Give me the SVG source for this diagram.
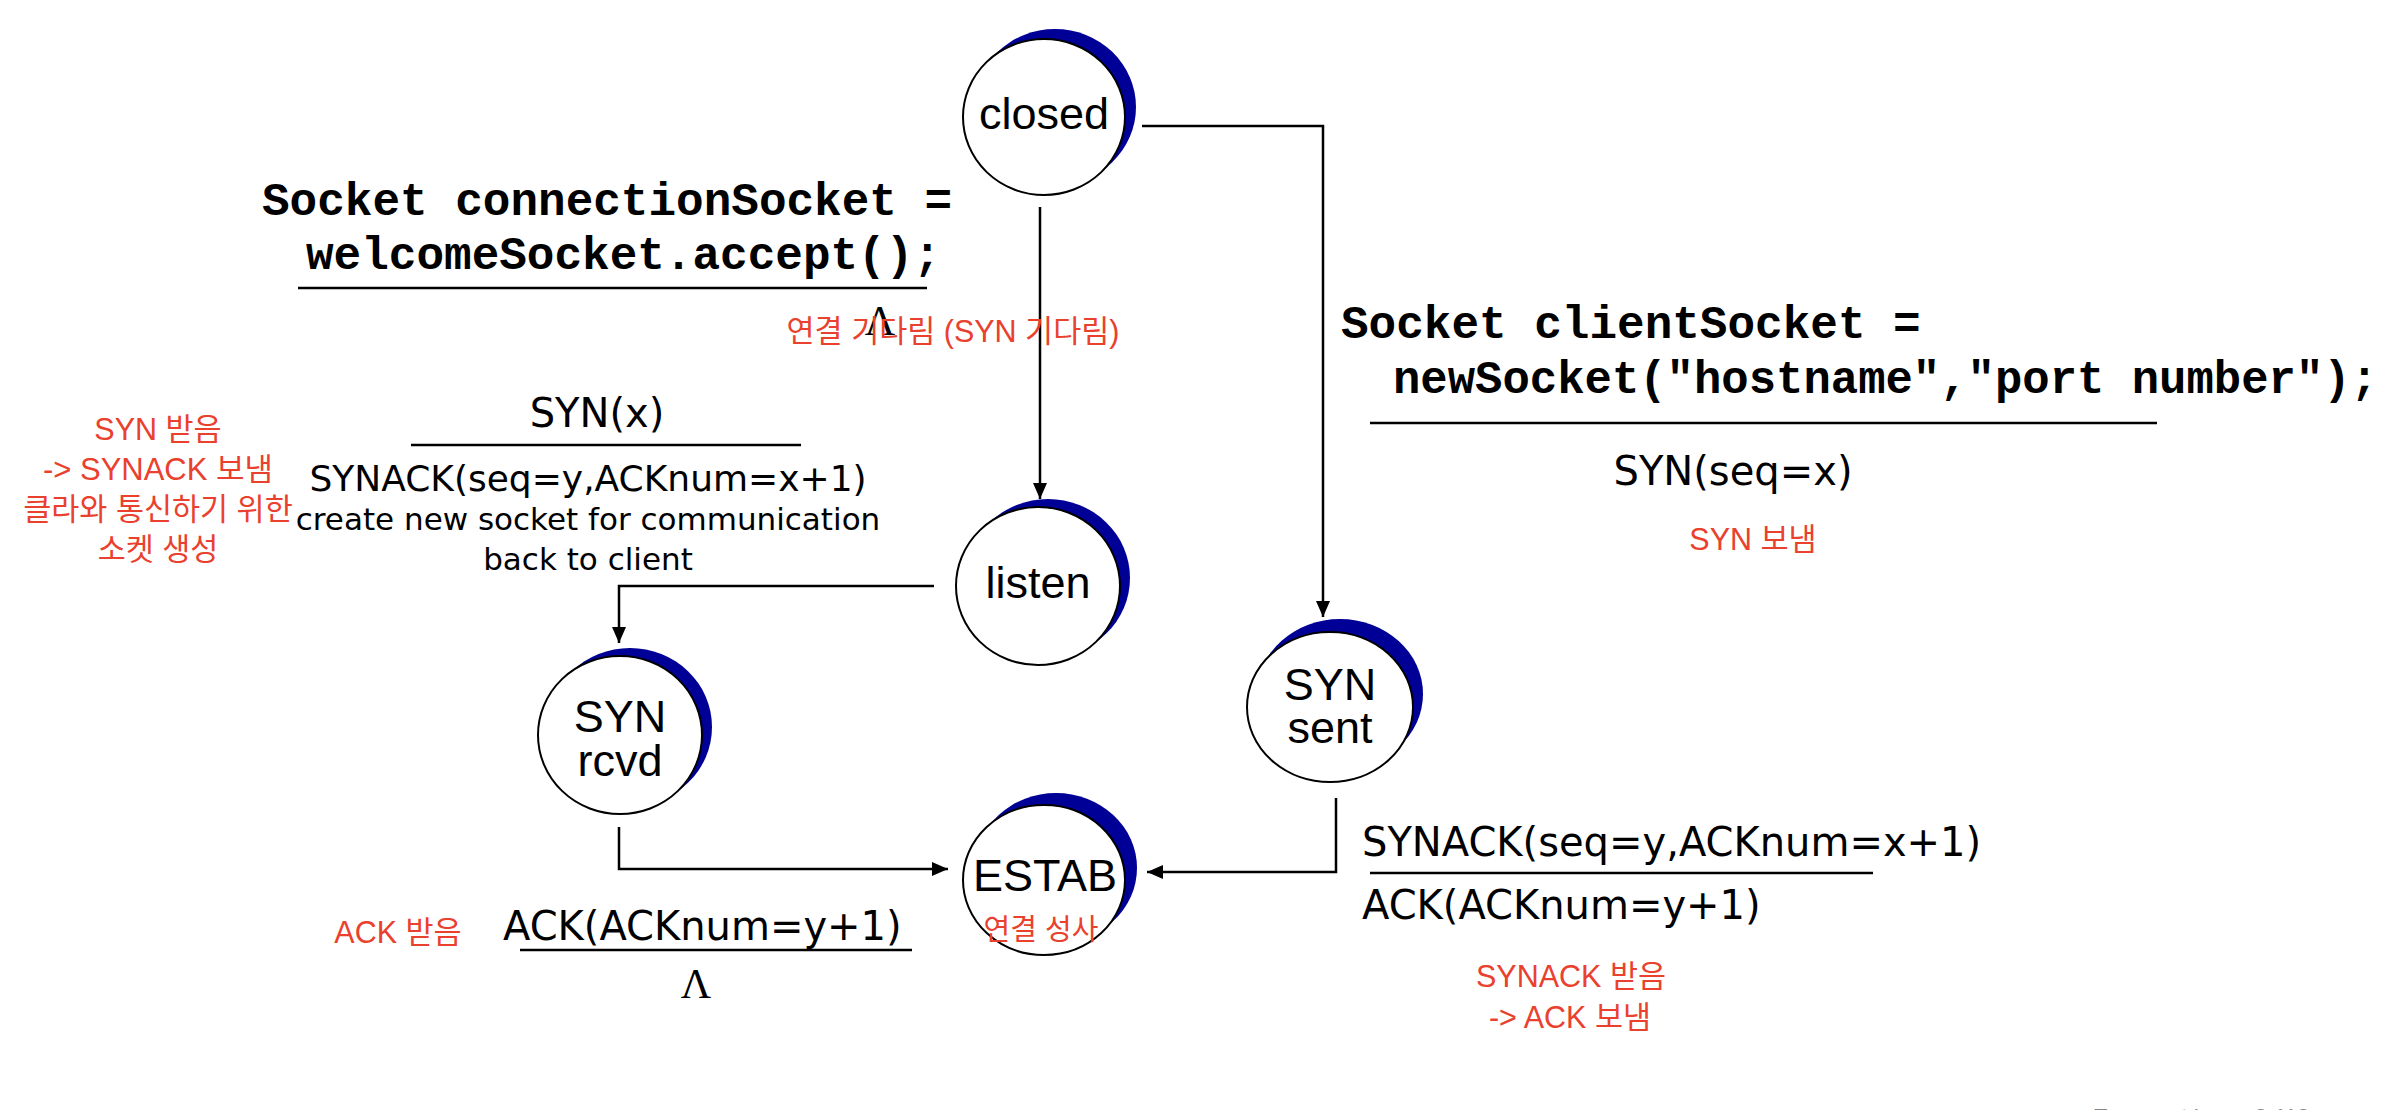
<svg xmlns="http://www.w3.org/2000/svg" width="2406" height="1110" viewBox="0 0 2406 1110">
<style>
.bg{fill:#ffffff}
.shadow{fill:#000096}
.state{fill:#ffffff;stroke:#000000;stroke-width:2}
.nl{font-family:"Liberation Sans",Arial,sans-serif;font-size:45px;fill:#000;text-anchor:middle}
.code{font-family:"Liberation Mono","Courier New",monospace;font-size:46px;font-weight:bold;fill:#000}
.lbl{font-family:"DejaVu Sans",Tahoma,sans-serif;fill:#000}
.red{font-family:"Liberation Sans","Noto Sans CJK KR",sans-serif;font-size:30.5px;fill:#E9412E;text-anchor:middle}
.lam{font-family:"Liberation Serif","Times New Roman",serif;font-size:42px;fill:#000;text-anchor:middle}
.rule{stroke:#000;stroke-width:2.5;fill:none}
.conn{stroke:#000;stroke-width:2.5;fill:none;marker-end:url(#arr)}
</style>
<defs>
<marker id="arr" markerUnits="userSpaceOnUse" markerWidth="18" markerHeight="16" refX="16" refY="7" orient="auto">
<path d="M0,0 L16,7 L0,14 z" fill="#000"/>
</marker>
</defs>
<rect class="bg" x="0" y="0" width="2406" height="1110"/>

<g id="connectors">
<path class="conn" d="M1040,207 L1040,499"/>
<path class="conn" d="M1142,126 L1323,126 L1323,617"/>
<path class="conn" d="M934,586 L619,586 L619,643"/>
<path class="conn" d="M619,827 L619,869 L948,869"/>
<path class="conn" d="M1336,798 L1336,872 L1147,872"/>
</g>

<g id="node-closed">
<ellipse class="shadow" cx="1055" cy="107" rx="81" ry="78"/>
<ellipse class="state" cx="1044" cy="117" rx="81" ry="78"/>
<text class="nl" x="1044" y="129">closed</text>
</g>
<g id="node-listen">
<ellipse class="shadow" cx="1048" cy="578" rx="82" ry="79"/>
<ellipse class="state" cx="1038" cy="586" rx="82" ry="79"/>
<text class="nl" x="1038" y="598">listen</text>
</g>
<g id="node-synrcvd">
<ellipse class="shadow" cx="630" cy="727" rx="82" ry="79"/>
<ellipse class="state" cx="620" cy="735" rx="82" ry="79"/>
<text class="nl" x="620" y="732">SYN</text>
<text class="nl" x="620" y="776">rcvd</text>
</g>
<g id="node-synsent">
<ellipse class="shadow" cx="1340" cy="694" rx="83" ry="75"/>
<ellipse class="state" cx="1330" cy="707" rx="83" ry="75"/>
<text class="nl" x="1330" y="700">SYN</text>
<text class="nl" x="1330" y="743">sent</text>
</g>
<g id="node-estab">
<ellipse class="shadow" cx="1056" cy="868" rx="81" ry="75"/>
<ellipse class="state" cx="1044" cy="880" rx="81" ry="75"/>
<text class="nl" x="1045" y="891">ESTAB</text>
<text class="red" x="1041" y="940" style="font-size:29px">연결 성사</text>
</g>

<g id="label-accept">
<text class="code" x="262" y="215">Socket connectionSocket =</text>
<text class="code" x="306" y="269">welcomeSocket.accept();</text>
<line class="rule" x1="298" y1="288" x2="927" y2="288"/>
<text class="lam" x="880" y="335">Λ</text>
<text class="red" x="953" y="342">연결 기다림 (SYN 기다림)</text>
</g>

<g id="label-listen-synrcvd">
<text class="lbl" x="597" y="427" text-anchor="middle" font-size="40">SYN(x)</text>
<line class="rule" x1="411" y1="445" x2="801" y2="445"/>
<text class="lbl" x="588" y="491" text-anchor="middle" font-size="36">SYNACK(seq=y,ACKnum=x+1)</text>
<text class="lbl" x="588" y="530" text-anchor="middle" font-size="31">create new socket for communication</text>
<text class="lbl" x="588" y="570" text-anchor="middle" font-size="31">back to client</text>
<text class="red" x="158" y="440">SYN 받음</text>
<text class="red" x="158" y="480" textLength="230" lengthAdjust="spacingAndGlyphs">-&gt; SYNACK 보냄</text>
<text class="red" x="158" y="520">클라와 통신하기 위한</text>
<text class="red" x="158" y="560">소켓 생성</text>
</g>

<g id="label-client">
<text class="code" x="1341" y="338">Socket clientSocket =</text>
<text class="code" x="1393" y="393" style="font-size:45.6px">newSocket("hostname","port number");</text>
<line class="rule" x1="1370" y1="423" x2="2157" y2="423"/>
<text class="lbl" x="1733" y="485" text-anchor="middle" font-size="40">SYN(seq=x)</text>
<text class="red" x="1753" y="550">SYN 보냄</text>
</g>

<g id="label-synsent-estab">
<text class="lbl" x="1362" y="856" font-size="40">SYNACK(seq=y,ACKnum=x+1)</text>
<line class="rule" x1="1370" y1="873" x2="1873" y2="873"/>
<text class="lbl" x="1362" y="919" font-size="40">ACK(ACKnum=y+1)</text>
<text class="red" x="1571" y="987">SYNACK 받음</text>
<text class="red" x="1570" y="1028">-&gt; ACK 보냄</text>
</g>

<g id="label-synrcvd-estab">
<text class="lbl" x="503" y="940" font-size="40">ACK(ACKnum=y+1)</text>
<line class="rule" x1="520" y1="950" x2="912" y2="950"/>
<text class="lam" x="696" y="998">Λ</text>
<text class="red" x="398" y="943">ACK 받음</text>
</g>

<text x="2094" y="1124" font-family="Liberation Sans, Arial, sans-serif" font-size="22" fill="#888888">Transport Layer 3-113</text>
</svg>
